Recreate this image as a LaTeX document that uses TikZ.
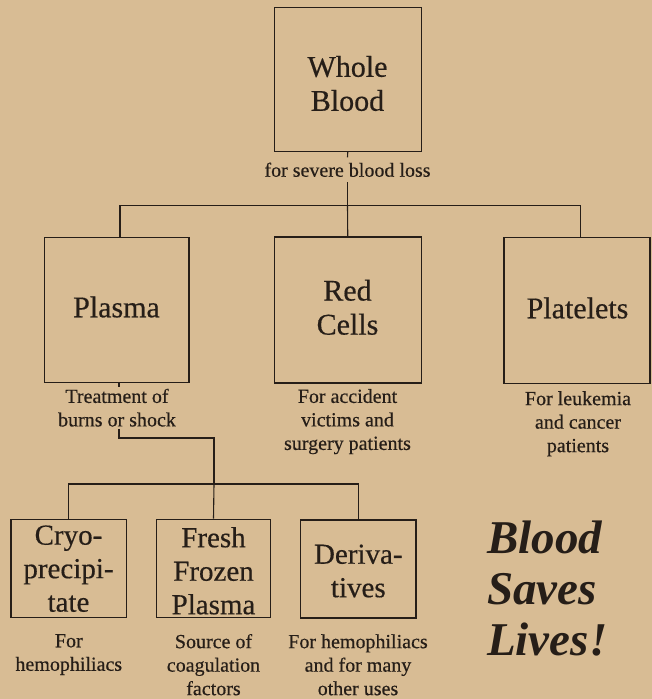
\documentclass[tikz,border=0pt]{standalone}
\usepackage{fontspec}
\setmainfont{Liberation Serif}[FakeBold=0.45]
\newfontfamily\slogfont{Liberation Serif}
\definecolor{paper}{RGB}{216,188,148}
\definecolor{ink}{RGB}{38,30,24}
\tikzset{
  box/.style={draw=ink, line width=1.3pt, inner sep=0pt},
  bigtxt/.style={text=ink, align=center, inner sep=0pt, font=\fontsize{30}{34}\selectfont},
  midtxt/.style={text=ink, align=center, inner sep=0pt, font=\fontsize{29}{33.5}\selectfont},
  captxt/.style={text=ink, align=center, inner xsep=0pt, inner ysep=2pt, font=\fontsize{20}{23.5}\selectfont},
  slogantxt/.style={text=ink, align=left, anchor=west, inner sep=0pt, font=\slogfont\fontsize{47}{51}\selectfont\bfseries\itshape},
  wire/.style={draw=ink, line width=1.1pt},
}
\begin{document}
\begin{tikzpicture}[x=1pt,y=-1pt]
\fill[paper] (0,0) rectangle (652,699);
\useasboundingbox (0,0) rectangle (652,699);

% boxes
\node[box, minimum width=147pt, minimum height=144pt] (whole) at (347.75,79.5) {};
\node[box, minimum width=144.5pt, minimum height=145.5pt] (plasma) at (116.75,310) {};
\node[box, minimum width=147pt, minimum height=146pt] (red) at (347.75,310) {};
\node[box, minimum width=146pt, minimum height=145.5pt] (platelets) at (577,310.5) {};
\node[box, minimum width=115.5pt, minimum height=98pt] (cryo) at (68.85,568.3) {};
\node[box, minimum width=114pt, minimum height=98pt] (fresh) at (213.5,568.3) {};
\node[box, minimum width=115.5pt, minimum height=98pt] (deriv) at (358.25,569) {};

% box labels
\node[bigtxt] (wholeT) at (347.5,83.5) {Whole\\Blood};
\node[bigtxt] (plasmaT) at (116.5,307) {Plasma};
\node[bigtxt] (redT) at (347.5,307.3) {Red\\Cells};
\node[bigtxt] (plateletsT) at (577.5,308) {Platelets};
\node[midtxt] (cryoT) at (68.5,568.7) {Cryo-\\precipi-\\tate};
\node[midtxt] (freshT) at (213.5,570.8) {Fresh\\Frozen\\Plasma};
\node[midtxt] (derivT) at (358.3,571) {Deriva-\\tives};

% captions
\node[captxt, inner ysep=5pt] (wholeC) at (347.5,169.8) {for severe blood loss};
\node[captxt] (plasmaC) at (117,407.7) {Treatment of\\burns or shock};
\node[captxt] (redC) at (347.5,421.6) {For accident\\victims and\\surgery patients};
\node[captxt] (plateletsC) at (578,423.8) {For leukemia\\and cancer\\patients};
\node[captxt] (cryoC) at (68.8,654.6) {For\\hemophiliacs};
\node[captxt] (freshC) at (213.5,664.7) {Source of\\coagulation\\factors};
\node[captxt] (derivC) at (358,664.8) {For hemophiliacs\\and for many\\other uses};

% slogan
\node[slogantxt] (slogan) at (487,588.3) {Blood\\Saves\\Lives!};

% connectors
\coordinate (hubA) at (347.5,205.5);
\coordinate (barL) at (120,205.5);
\coordinate (barR) at (580.7,205.5);
\draw[wire] (whole.south) -- (wholeC.north);
\draw[wire] (wholeC.south) -- (hubA);
\draw[wire] (plasma.north -| barL) -- (barL) -- (barR) -- (platelets.north -| barR);
\draw[wire] (hubA) -- (red.north);

\coordinate (tapA) at (119,438);
\coordinate (hubB) at (214,484);
\draw[wire] (plasma.south -| tapA) -- (plasmaC.north -| tapA);
\draw[wire] (plasmaC.south -| tapA) -- (tapA) -- (tapA -| hubB) -- (hubB);
\draw[wire] (cryo.north) |- (hubB) -| (deriv.north);
\draw[wire] (hubB) -- (fresh.north);
\end{tikzpicture}
\end{document}
